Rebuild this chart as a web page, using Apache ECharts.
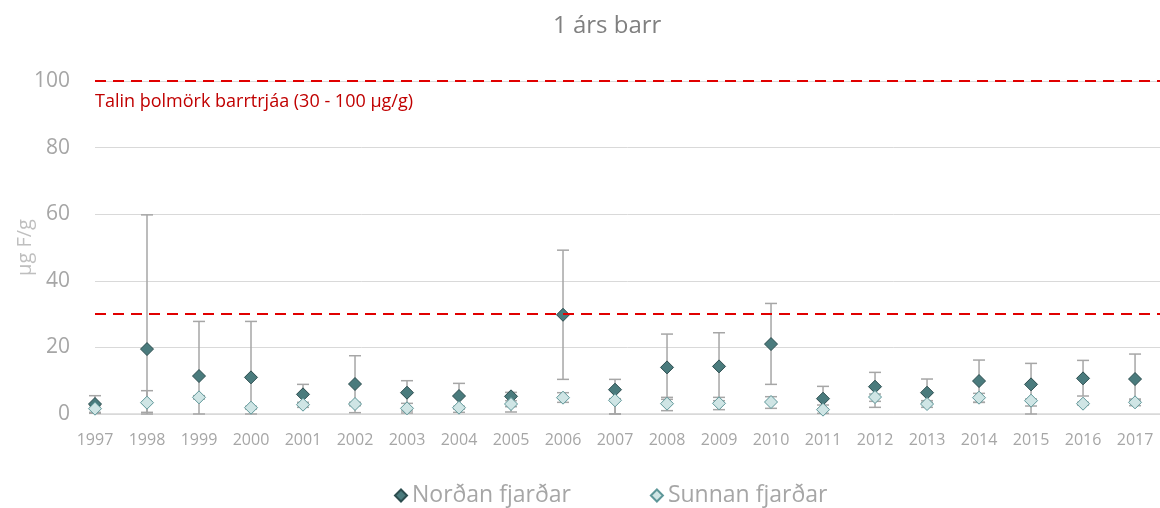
<!DOCTYPE html>
<html>
<head>
<meta charset="utf-8">
<title>1 árs barr</title>
<script src="https://cdn.jsdelivr.net/npm/echarts@6/dist/echarts.min.js"></script>
<style>
  html, body { margin: 0; padding: 0; background: #ffffff; }
  #chart { width: 1160px; height: 508px; }
</style>
</head>
<body>
<div id="chart"></div>
<script>
// Fluoride in one-year-old conifer needles (µg F/g), mean with range per year
const years = [1997, 1998, 1999, 2000, 2001, 2002, 2003, 2004, 2005, 2006, 2007,
               2008, 2009, 2010, 2011, 2012, 2013, 2014, 2015, 2016, 2017];

const nordan     = [3.0, 19.5, 11.4, 11.0, 5.9, 9.0, 6.4, 5.4, 5.3, 29.8, 7.3,
                    14.0, 14.3, 21.0, 4.6, 8.2, 6.4, 9.9, 8.9, 10.7, 10.5];
const nordanLow  = [0.2, 0.0, 0.0, 0.0, 3.4, 0.4, 0.3, 0.5, 0.6, 10.4, 0.0,
                    5.0, 5.0, 8.9, 1.5, 3.8, 4.0, 3.5, 0.0, 5.4, 4.5];
const nordanHigh = [5.5, 59.8, 27.8, 27.8, 8.9, 17.5, 10.0, 9.2, 6.5, 49.2, 10.4,
                    24.0, 24.4, 33.2, 8.3, 12.5, 10.5, 16.2, 15.2, 16.1, 18.0];

const sunnan     = [1.6, 3.4, 5.0, 1.9, 2.8, 3.0, 1.7, 1.9, 3.0, 4.9, 4.1,
                    3.1, 3.2, 3.6, 1.3, 5.1, 3.0, 4.9, 4.0, 3.1, 3.5];
const sunnanLow  = [0.5, 0.5, 4.5, 1.5, 2.0, 2.5, 0.9, 1.5, 2.2, 3.5, 0.0,
                    1.0, 1.3, 1.7, 0.2, 2.0, 2.0, 3.5, 2.4, 2.7, 2.5];
const sunnanHigh = [2.5, 7.0, 5.5, 2.3, 3.5, 3.5, 3.2, 2.3, 4.0, 6.4, 4.6,
                    4.4, 4.0, 5.2, 2.7, 6.0, 3.5, 6.2, 4.5, 3.5, 4.2];

// Tolerance limits for conifers
const thresholds = [30, 100];
const thresholdLabel = 'Talin þolmörk barrtrjáa (30 - 100 µg/g)';

const seriesNames = ['Norðan fjarðar', 'Sunnan fjarðar'];
const yTicks = { min: 0, max: 100, interval: 20 };

const pairs = (vals) => years.map((y, i) => [y, vals[i]]);
const ranges = (lo, hi) => years.map((y, i) => [y, lo[i], hi[i]]);

const barColor = '#a6a6a6';
function errorBar(params, api) {
  const x = api.value(0);
  const top = api.coord([x, api.value(2)]);
  const bot = api.coord([x, api.value(1)]);
  const half = 6;
  const style = { stroke: barColor, lineWidth: 1.5 };
  return {
    type: 'group',
    children: [
      { type: 'line', shape: { x1: top[0], y1: top[1], x2: bot[0], y2: bot[1] }, style },
      { type: 'line', shape: { x1: top[0] - half, y1: top[1], x2: top[0] + half, y2: top[1] }, style },
      { type: 'line', shape: { x1: bot[0] - half, y1: bot[1], x2: bot[0] + half, y2: bot[1] }, style }
    ]
  };
}

const chart = echarts.init(document.getElementById('chart'), null, { renderer: 'canvas' });

chart.setOption({
  animation: false,
  backgroundColor: '#ffffff',
  textStyle: { fontFamily: 'Open Sans' },
  title: {
    text: '1 árs barr',
    left: 548,
    top: 9,
    textStyle: { fontFamily: 'Open Sans', fontSize: 24, fontWeight: 'normal', color: '#808080' }
  },
  legend: {
    data: seriesNames,
    top: 479,
    left: 389,
    itemGap: 79,
    itemWidth: 12,
    itemHeight: 12,
    textStyle: { fontFamily: 'Open Sans', fontSize: 23, color: '#a6a6a6' }
  },
  grid: { left: 95, right: 0, top: 81, bottom: 94, containLabel: false, outerBoundsMode: 'none' },
  xAxis: {
    type: 'value',
    min: 1997,
    max: 2017.48,
    interval: 1,
    axisLine: { show: true, lineStyle: { color: '#d9d9d9', width: 1.5 } },
    axisTick: { show: false },
    splitLine: { show: false },
    axisLabel: {
      color: '#a6a6a6',
      fontSize: 16,
      margin: 18,
      showMaxLabel: false,
      formatter: (v) => (Number.isInteger(v) ? String(v) : '')
    }
  },
  yAxis: {
    type: 'value',
    min: yTicks.min,
    max: yTicks.max,
    interval: yTicks.interval,
    name: 'µg F/g',
    nameLocation: 'middle',
    nameRotate: 90,
    nameGap: 60,
    nameMoveOverlap: false,
    nameTextStyle: { fontFamily: 'Open Sans', fontSize: 20, color: '#bfbfbf' },
    axisLine: { show: false },
    axisTick: { show: false },
    splitLine: { lineStyle: { color: '#d9d9d9', width: 1 } },
    axisLabel: { color: '#a6a6a6', fontSize: 21, margin: 25 }
  },
  series: [
    {
      name: 'Norðan range',
      type: 'custom',
      renderItem: errorBar,
      data: ranges(nordanLow, nordanHigh),
      encode: { x: 0, y: [1, 2] },
      z: 2,
      silent: true
    },
    {
      name: 'Sunnan range',
      type: 'custom',
      renderItem: errorBar,
      data: ranges(sunnanLow, sunnanHigh),
      encode: { x: 0, y: [1, 2] },
      z: 2,
      silent: true
    },
    {
      name: seriesNames[0],
      type: 'scatter',
      symbol: 'diamond',
      symbolSize: 13,
      data: pairs(nordan),
      itemStyle: { color: '#4a7b7d', borderColor: '#2c4d4f', borderWidth: 1, opacity: 1 },
      z: 4,
      markLine: {
        silent: true,
        symbol: 'none',
        lineStyle: { color: '#e00000', type: [11, 7], width: 2 },
        data: thresholds.map((t, i) => ({
          yAxis: t,
          label: i === thresholds.length - 1
            ? {
                show: true,
                position: 'insideStartBottom',
                formatter: thresholdLabel,
                distance: [0, 12],
                fontFamily: 'Open Sans',
                fontSize: 18,
                color: '#c00000'
              }
            : { show: false }
        }))
      }
    },
    {
      name: seriesNames[1],
      type: 'scatter',
      symbol: 'diamond',
      symbolSize: 13,
      data: pairs(sunnan),
      itemStyle: { color: '#cfe5e5', borderColor: '#5e9799', borderWidth: 1, opacity: 1 },
      z: 5
    }
  ]
});
</script>
</body>
</html>
